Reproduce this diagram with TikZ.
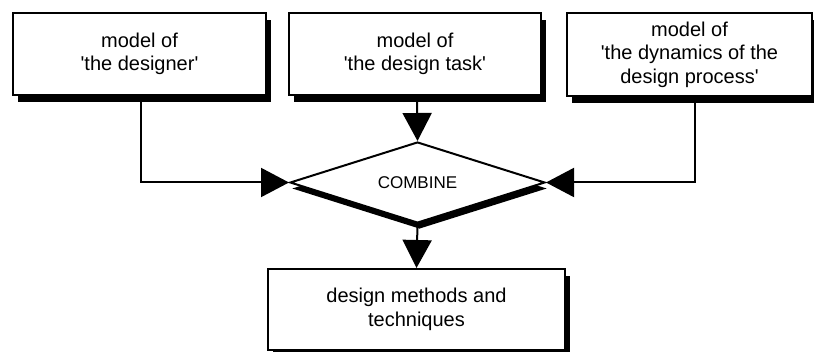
\documentclass[tikz,border=0pt]{standalone}
\usepackage{fontspec}
\setmainfont{Liberation Sans}
\usetikzlibrary{shapes.geometric,shadows,arrows.meta}
\newcommand{\qs}{\textquotesingle}
\begin{document}
\begin{tikzpicture}[x=1pt,y=-1pt,
  txt/.style={font=\fontsize{20}{23.5}\selectfont},
  box/.style={draw,line width=2pt,fill=white,rectangle,inner sep=0pt,align=center,txt,
    drop shadow={shadow xshift=5pt,shadow yshift=-7pt,opacity=1,fill=black}},
  combine/.style={diamond,draw,line width=2pt,fill=white,inner sep=0pt,aspect=3.15,
    font=\fontsize{17}{20}\selectfont,
    minimum width=255pt,minimum height=81pt,
    drop shadow={shadow xshift=2pt,shadow yshift=-6pt,opacity=1,fill=black}},
  conn/.style={line width=2pt,-{Triangle[width=29pt,length=28pt]}}]
\useasboundingbox (0,0) rectangle (814,352);
\clip (0,0) rectangle (814,352);
\node[box,minimum width=253pt,minimum height=82pt] (b1) at (139.5,54) {model of\\\qs the designer\qs};
\node[box,minimum width=252pt,minimum height=82pt] (b2) at (415,54) {model of\\\qs the design task\qs};
\node[box,minimum width=245pt,minimum height=83pt] (b3) at (689.5,54.5) {model of\\\qs the dynamics of the\\design process\qs};
\node[combine] (d) at (417.5,182.5) {COMBINE};
\node[box,minimum width=297pt,minimum height=81pt] (b4) at (416.5,309.5) {design methods and\\techniques};
\draw[conn] ([xshift=1.5pt]b1.south) |- (d.west);
\draw[conn] ([xshift=2pt]b2.south) -- (d.north);
\draw[conn] ([xshift=5.5pt]b3.south) |- (d.east);
\draw[conn] (d.south) -- (b4.north);
\end{tikzpicture}
\end{document}
